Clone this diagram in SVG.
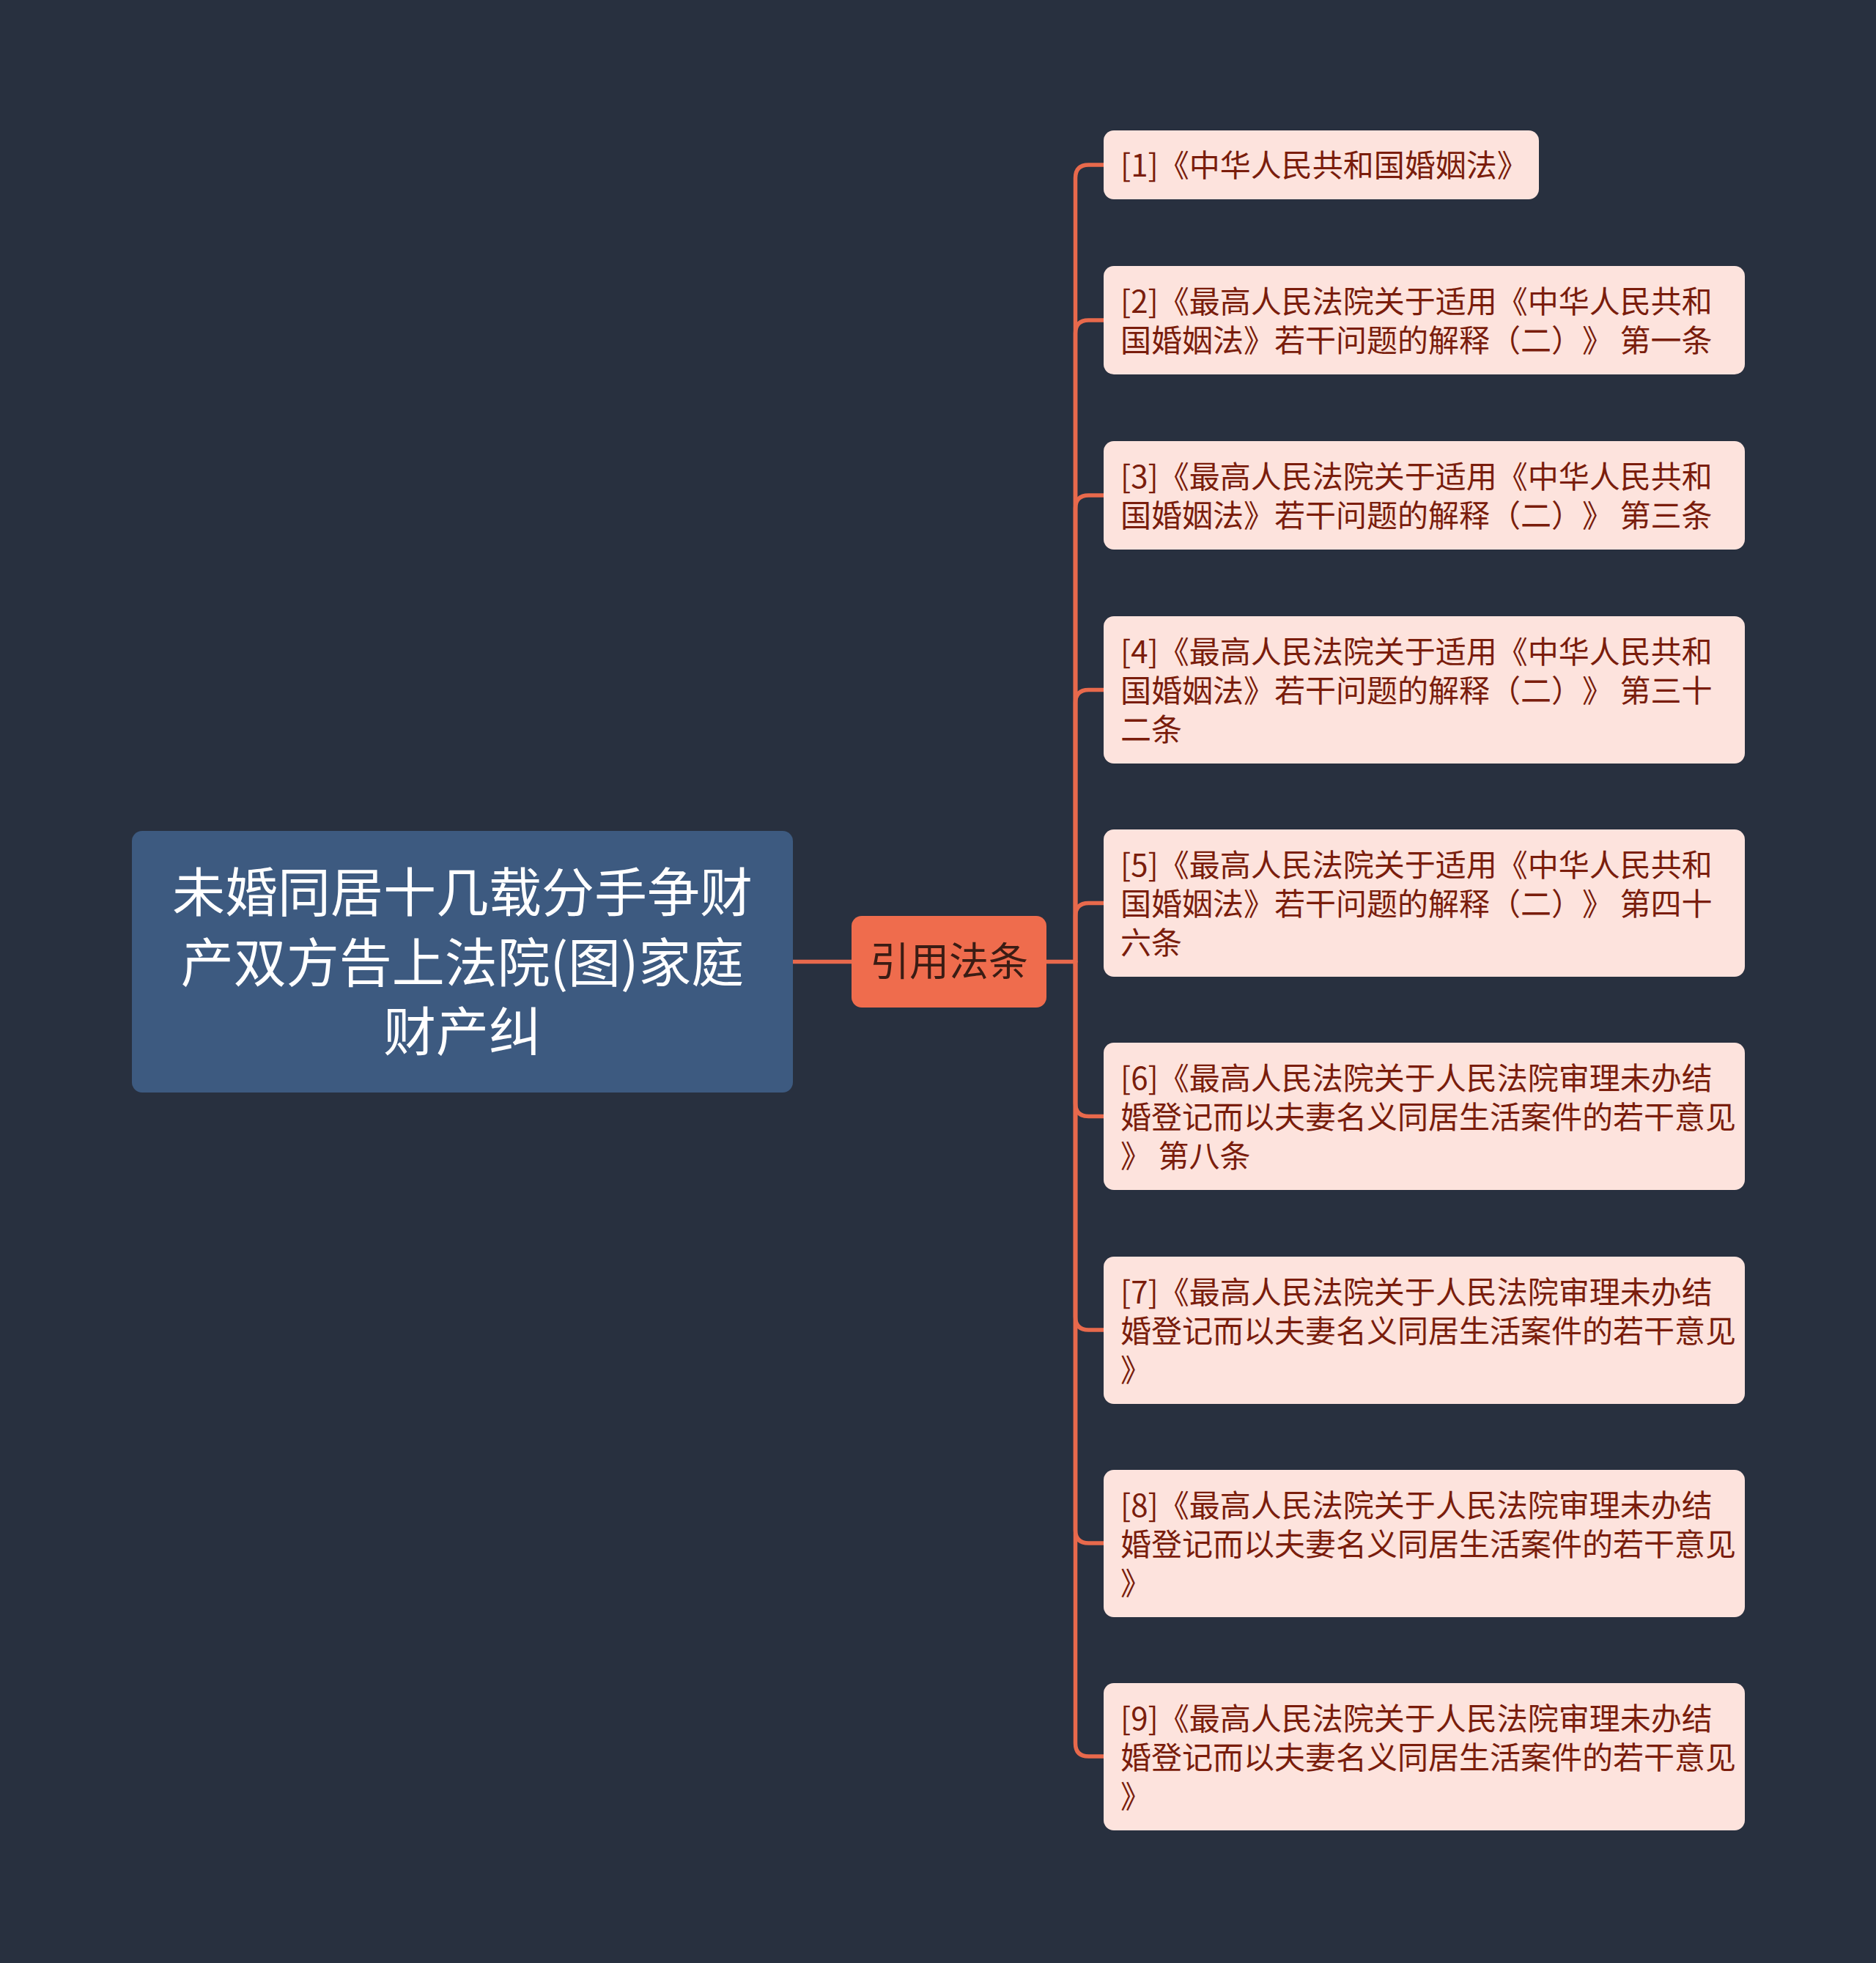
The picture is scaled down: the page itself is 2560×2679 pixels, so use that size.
<svg xmlns="http://www.w3.org/2000/svg" width="2560" height="2679" viewBox="0 0 2560 2679">
<style>
.bg{fill:#28303f}
.root{fill:#3d5a80}
.mid{fill:#ef6c4d}
.leaf{fill:#fde3dd}
.link{fill:none;stroke:#e8694c;stroke-width:5.5;stroke-linecap:round}
text{font-family:"Noto Sans CJK SC","Noto Sans",sans-serif;text-spacing-trim:space-all}
.rt{fill:#ffffff;font-size:72px;text-anchor:middle}
.mt{fill:#3a1c14;font-size:54px;text-anchor:middle}
.lt{fill:#7a1d0c;font-size:42px}
</style>
<rect class="bg" x="0" y="0" width="2560" height="2679"/>
<g id="connectors">
<path class="link" d="M1082 1312.5 H1162"/>
<path class="link" d="M1427 1312.5 H1467.5"/>
<path class="link" d="M1467.5 1312.5 V243 Q1467.5 225 1485.5 225 H1506"/>
<path class="link" d="M1467.5 1312.5 V455 Q1467.5 437 1485.5 437 H1506"/>
<path class="link" d="M1467.5 1312.5 V694 Q1467.5 676 1485.5 676 H1506"/>
<path class="link" d="M1467.5 1312.5 V959.5 Q1467.5 941.5 1485.5 941.5 H1506"/>
<path class="link" d="M1467.5 1312.5 V1250.5 Q1467.5 1232.5 1485.5 1232.5 H1506"/>
<path class="link" d="M1467.5 1312.5 V1505.5 Q1467.5 1523.5 1485.5 1523.5 H1506"/>
<path class="link" d="M1467.5 1312.5 V1797 Q1467.5 1815 1485.5 1815 H1506"/>
<path class="link" d="M1467.5 1312.5 V2088 Q1467.5 2106 1485.5 2106 H1506"/>
<path class="link" d="M1467.5 1312.5 V2379 Q1467.5 2397 1485.5 2397 H1506"/>
</g>
<g id="root">
<rect class="root" x="180" y="1134" width="902" height="357" rx="14"/>
<text class="rt" x="631" y="1244">未婚同居十几载分手争财</text>
<text class="rt" x="631" y="1340">产双方告上法院(图)家庭</text>
<text class="rt" x="631" y="1434">财产纠</text>
</g>
<g id="mid">
<rect class="mid" x="1162" y="1250" width="266" height="125" rx="14"/>
<text class="mt" x="1295" y="1332">引用法条</text>
</g>
<g id="n1">
<rect class="leaf" x="1506" y="178" width="594" height="94" rx="14"/>
<text class="lt" x="1529" y="241">[1]《中华人民共和国婚姻法》</text>
</g>
<g id="n2">
<rect class="leaf" x="1506" y="363" width="875" height="148" rx="14"/>
<text class="lt" x="1529" y="427">[2]《最高人民法院关于适用《中华人民共和</text>
<text class="lt" x="1529" y="480">国婚姻法》若干问题的解释（二）》 第一条</text>
</g>
<g id="n3">
<rect class="leaf" x="1506" y="602" width="875" height="148" rx="14"/>
<text class="lt" x="1529" y="666">[3]《最高人民法院关于适用《中华人民共和</text>
<text class="lt" x="1529" y="719">国婚姻法》若干问题的解释（二）》 第三条</text>
</g>
<g id="n4">
<rect class="leaf" x="1506" y="841" width="875" height="201" rx="14"/>
<text class="lt" x="1529" y="905">[4]《最高人民法院关于适用《中华人民共和</text>
<text class="lt" x="1529" y="958">国婚姻法》若干问题的解释（二）》 第三十</text>
<text class="lt" x="1529" y="1011">二条</text>
</g>
<g id="n5">
<rect class="leaf" x="1506" y="1132" width="875" height="201" rx="14"/>
<text class="lt" x="1529" y="1196">[5]《最高人民法院关于适用《中华人民共和</text>
<text class="lt" x="1529" y="1249">国婚姻法》若干问题的解释（二）》 第四十</text>
<text class="lt" x="1529" y="1302">六条</text>
</g>
<g id="n6">
<rect class="leaf" x="1506" y="1423" width="875" height="201" rx="14"/>
<text class="lt" x="1529" y="1487">[6]《最高人民法院关于人民法院审理未办结</text>
<text class="lt" x="1529" y="1540">婚登记而以夫妻名义同居生活案件的若干意见</text>
<text class="lt" x="1529" y="1593">》 第八条</text>
</g>
<g id="n7">
<rect class="leaf" x="1506" y="1715" width="875" height="201" rx="14"/>
<text class="lt" x="1529" y="1779">[7]《最高人民法院关于人民法院审理未办结</text>
<text class="lt" x="1529" y="1832">婚登记而以夫妻名义同居生活案件的若干意见</text>
<text class="lt" x="1529" y="1885">》</text>
</g>
<g id="n8">
<rect class="leaf" x="1506" y="2006" width="875" height="201" rx="14"/>
<text class="lt" x="1529" y="2070">[8]《最高人民法院关于人民法院审理未办结</text>
<text class="lt" x="1529" y="2123">婚登记而以夫妻名义同居生活案件的若干意见</text>
<text class="lt" x="1529" y="2176">》</text>
</g>
<g id="n9">
<rect class="leaf" x="1506" y="2297" width="875" height="201" rx="14"/>
<text class="lt" x="1529" y="2361">[9]《最高人民法院关于人民法院审理未办结</text>
<text class="lt" x="1529" y="2414">婚登记而以夫妻名义同居生活案件的若干意见</text>
<text class="lt" x="1529" y="2467">》</text>
</g>
</svg>
